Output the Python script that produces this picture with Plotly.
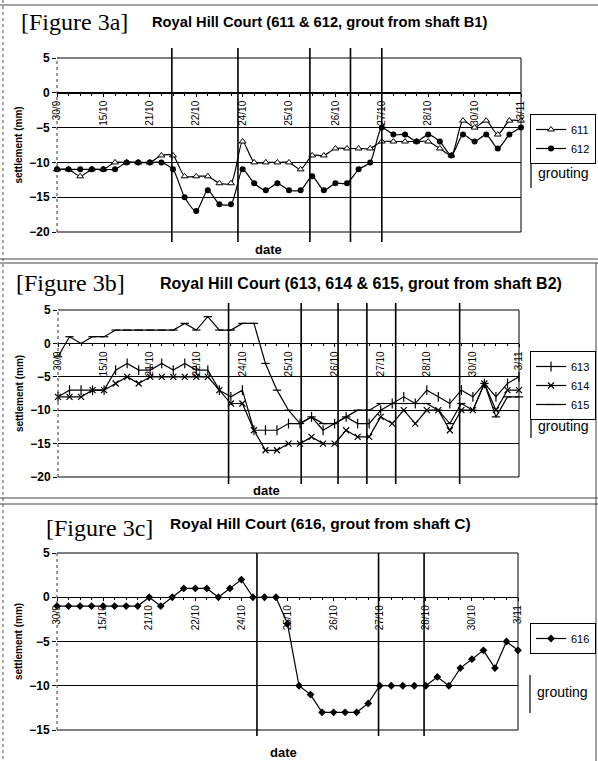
import plotly.graph_objects as go

# ---------------- data ----------------
tick_labels = ["30/9", "15/10", "21/10", "22/10", "24/10", "25/10",
               "26/10", "27/10", "28/10", "30/10", "3/11"]
points_per_label = 4
x_idx = list(range(41))

# Figure 3a
s611 = [-11, -11, -12, -11, -11, -10, -10, -10, -10, -9, -9, -12, -12, -12, -13, -13,
        -7, -10, -10, -10, -10, -11, -9, -9, -8, -8, -8, -8, -7, -7, -7, -7, -7, -8,
        -9, -4, -5, -4, -6, -4, -4]
s612 = [-11, -11, -11, -11, -11, -11, -10, -10, -10, -10, -11, -15, -17, -14, -16, -16,
        -11, -13, -14, -13, -14, -14, -12, -14, -13, -13, -11, -10, -5, -6, -6, -7, -6,
        -7, -9, -6, -7, -6, -8, -6, -5]
grout_a = [9.9, 15.6, 21.8, 25.3, 28.0]

# Figure 3b
s613 = [-8, -7, -7, -7, -7, -4, -3, -4, -4, -3, -4, -3, -4, -4, -7, -8, -7, -13, -13,
        -13, -12, -12, -11, -13, -12, -11, -12, -12, -10, -9, -8, -9, -7, -8, -9, -7,
        -8, -6, -8, -6, -5]
s614 = [-8, -8, -8, -7, -7, -6, -5, -6, -5, -5, -5, -5, -5, -5, -7, -9, -9, -13, -16,
        -16, -15, -15, -14, -15, -15, -13, -14, -14, -11, -12, -10, -12, -10, -10, -13,
        -10, -10, -6, -10, -7, -7]
s615 = [-2, 1, 0, 1, 1, 2, 2, 2, 2, 2, 2, 3, 2, 4, 2, 2, 3, 3, -3, -7, -10, -12, -11,
        -12, -12, -11, -10, -10, -9, -9, -9, -9, -9, -10, -12, -9, -10, -6, -11, -8, -8]
grout_b = [14.8, 21.1, 24.3, 26.8, 29.3, 34.85]

# Figure 3c
s616 = [-1, -1, -1, -1, -1, -1, -1, -1, 0, -1, 0, 1, 1, 1, 0, 1, 2, 0, 0, 0, -3, -10,
        -11, -13, -13, -13, -13, -12, -10, -10, -10, -10, -10, -9, -10, -8, -7, -6, -8,
        -5, -6]
grout_c = [17.35, 27.9, 31.85]

# ---------------- layout helpers ----------------
W, H = 598, 761
SANS = "Liberation Sans, Arial, sans-serif"
SERIF = "Liberation Serif, Times New Roman, serif"


def px(x):
    return x / W


def py(y):
    return 1 - y / H


tickvals = [i * points_per_label for i in range(len(tick_labels))]

fig = go.Figure()
shapes = []
annotations = []

panels = [
    dict(key="", xd=(57, 521), yd=(58, 232), yr=(-20, 5), ext=(10, 10),
         fig="[Figure 3a]", figpos=(19, 22),
         title="Royal Hill Court (611 & 612, grout from shaft B1)", titlepos=(150, 22),
         title_size=14.7,
         legend=(596, 114), grout_bar=(531, 158, 188), grout_txt=(536, 173),
         date=(268, 249), grout=grout_a, spline=True),
    dict(key="2", xd=(58, 519), yd=(310, 477), yr=(-20, 5), ext=(7, 7),
         fig="[Figure 3b]", figpos=(14, 283),
         title="Royal Hill Court (613, 614 & 615, grout from shaft B2)", titlepos=(158, 283),
         title_size=16,
         legend=(596, 351), grout_bar=(531, 414, 438), grout_txt=(536, 426),
         date=(266, 491), grout=grout_b, spline=False),
    dict(key="3", xd=(57, 518), yd=(553, 730), yr=(-15, 5), ext=(0, 6),
         fig="[Figure 3c]", figpos=(44, 528),
         title="Royal Hill Court (616, grout from shaft C)", titlepos=(168, 523),
         title_size=15.5,
         legend=(596, 623), grout_bar=(530, 675, 713), grout_txt=(535, 692),
         date=(283, 752), grout=grout_c, spline=False),
]

series = [
    ("", "611", s611, dict(symbol="triangle-up", size=6, color="white",
                           line=dict(width=1, color="black"))),
    ("", "612", s612, dict(symbol="circle", size=6, color="black",
                           line=dict(width=0, color="black"))),
    ("2", "613", s613, dict(symbol="line-ns", size=7, color="black",
                            line=dict(width=1.2, color="black"))),
    ("2", "614", s614, dict(symbol="x-thin", size=6, color="black",
                            line=dict(width=1.2, color="black"))),
    ("2", "615", s615, dict(symbol="line-ew", size=6, color="black",
                            line=dict(width=1.2, color="black"))),
    ("3", "616", s616, dict(symbol="diamond", size=6, color="black",
                            line=dict(width=0, color="black"))),
]

spline_of = {p["key"]: p["spline"] for p in panels}

for key, name, vals, mk in series:
    line = dict(color="black", width=1.2)
    if spline_of[key]:
        line.update(shape="spline", smoothing=0.7)
    fig.add_trace(go.Scatter(
        x=x_idx, y=vals, name=name, mode="lines+markers",
        xaxis="x" + key, yaxis="y" + key,
        legend="legend" + key,
        line=line, marker=mk, cliponaxis=False,
    ))

layout = dict(width=W, height=H, margin=dict(l=0, r=0, t=0, b=0, autoexpand=False),
              paper_bgcolor="white", plot_bgcolor="white",
              font=dict(family=SANS, color="black"))

for p in panels:
    k = p["key"]
    xd = [px(p["xd"][0]), px(p["xd"][1])]
    yd = [py(p["yd"][1]), py(p["yd"][0])]
    y0, y1 = p["yr"]
    zero_pos = yd[0] + (0 - y0) / (y1 - y0) * (yd[1] - yd[0])
    layout["xaxis" + k] = dict(
        domain=xd, range=[0, len(x_idx) - 1], anchor="free", position=zero_pos,
        showline=True, linecolor="black", linewidth=1, automargin=False,
        tickmode="array", tickvals=tickvals, ticktext=tick_labels,
        tickangle=-90, ticks="outside", ticklen=3, tickcolor="black",
        minor=dict(dtick=1, tick0=0, ticks="outside", ticklen=2, tickcolor="black"),
        showgrid=False, zeroline=False,
        tickfont=dict(family=SANS, size=10, color="black"),
    )
    layout["yaxis" + k] = dict(
        domain=yd, range=[y0, y1], anchor="x" + k, dtick=5, tick0=0,
        showgrid=True, gridcolor="black", gridwidth=1, zeroline=False,
        showline=False, ticks="outside", ticklen=4, tickcolor="black",
        automargin=False,
        tickfont=dict(family=SANS, size=12, color="black", weight="bold"),
        title=dict(text="settlement (mm)", standoff=4,
                   font=dict(family=SANS, size=10, color="black", weight="bold")),
    )
    # plot borders
    dom = dict(xref="x" + k + " domain", yref="y" + k + " domain")
    shapes.append(dict(type="line", **dom, x0=1, x1=1, y0=0, y1=1,
                       line=dict(color="black", width=1)))
    shapes.append(dict(type="line", **dom, x0=0, x1=1, y0=1, y1=1,
                       line=dict(color="black", width=1)))
    shapes.append(dict(type="line", **dom, x0=0, x1=1, y0=0, y1=0,
                       line=dict(color="black", width=1)))
    shapes.append(dict(type="line", **dom, x0=0, x1=0, y0=0, y1=1,
                       line=dict(color="#333", width=1, dash="dot")))
    # grouting lines
    for g in p["grout"]:
        shapes.append(dict(type="line", xref="x" + k, yref="paper", x0=g, x1=g,
                           y0=yd[0] - p["ext"][1] / H, y1=yd[1] + p["ext"][0] / H,
                           line=dict(color="black", width=1.6)))
    # grouting legend bar + text
    bx, by0, by1 = p["grout_bar"]
    shapes.append(dict(type="line", xref="paper", yref="paper", x0=px(bx), x1=px(bx),
                       y0=py(by0), y1=py(by1), line=dict(color="black", width=1.2)))
    annotations.append(dict(text="grouting", xref="paper", yref="paper",
                            x=px(p["grout_txt"][0]), y=py(p["grout_txt"][1]),
                            xanchor="left", yanchor="middle", showarrow=False,
                            font=dict(family=SANS, size=14, color="black")))
    # titles
    annotations.append(dict(text=p["fig"], xref="paper", yref="paper",
                            x=px(p["figpos"][0]), y=py(p["figpos"][1]),
                            xanchor="left", yanchor="middle", showarrow=False,
                            font=dict(family=SERIF, size=24, color="black")))
    annotations.append(dict(text=p["title"], xref="paper", yref="paper",
                            x=px(p["titlepos"][0]), y=py(p["titlepos"][1]),
                            xanchor="left", yanchor="middle", showarrow=False,
                            font=dict(family=SANS, size=p["title_size"], color="black",
                                      weight="bold")))
    annotations.append(dict(text="date", xref="paper", yref="paper",
                            x=px(p["date"][0]), y=py(p["date"][1]),
                            xanchor="center", yanchor="middle", showarrow=False,
                            font=dict(family=SANS, size=13, color="black", weight="bold")))
    # legend
    layout["legend" + k] = dict(
        x=px(p["legend"][0]), y=py(p["legend"][1]), xanchor="right", yanchor="top",
        xref="paper", yref="paper",
        bgcolor="white", bordercolor="black", borderwidth=1,
        font=dict(family=SANS, size=11, color="black"),
        itemwidth=30, tracegroupgap=0,
    )

# page frame lines (scanned document boxes)
frame = [
    (0, 5, 598, 5), (0, 259, 598, 259), (0, 263, 598, 263),
    (0, 498, 598, 498), (0, 504, 598, 504),
]
for x0, y0, x1, y1 in frame:
    shapes.append(dict(type="line", xref="paper", yref="paper", x0=px(x0), x1=px(x1),
                       y0=py(y0), y1=py(y1), line=dict(color="#444", width=1)))
shapes.append(dict(type="line", xref="paper", yref="paper", x0=px(3), x1=px(3),
                   y0=py(0), y1=py(761), line=dict(color="#555", width=1, dash="dot")))
shapes.append(dict(type="line", xref="paper", yref="paper", x0=px(596), x1=px(596),
                   y0=py(263), y1=py(761), line=dict(color="#444", width=1)))

layout["shapes"] = shapes
layout["annotations"] = annotations
fig.update_layout(**layout)

fig.write_html(
    "out.html",
    config={"displayModeBar": False},
    post_script="document.body.style.margin='0';document.body.style.overflow='hidden';",
)
